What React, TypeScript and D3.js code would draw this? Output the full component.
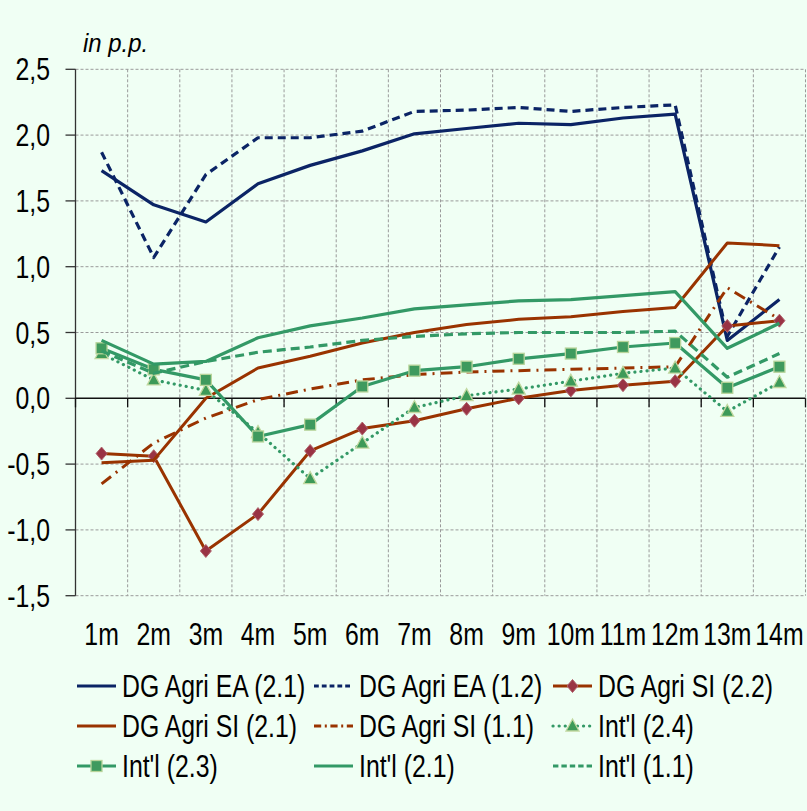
import React from "react";
import * as d3 from "d3";

const months = ["1m","2m","3m","4m","5m","6m","7m","8m","9m","10m","11m","12m","13m","14m"];
const yTicks = [2.5, 2.0, 1.5, 1.0, 0.5, 0.0, -0.5, -1.0, -1.5];

const eaAgri21 = [1.73,1.47,1.34,1.63,1.77,1.88,2.01,2.05,2.09,2.08,2.13,2.16,0.44,0.75];
const eaAgri12 = [1.87,1.07,1.70,1.98,1.98,2.03,2.18,2.19,2.21,2.18,2.21,2.23,0.47,1.15];
const siAgri22 = [-0.42,-0.44,-1.16,-0.88,-0.40,-0.23,-0.17,-0.08,0.0,0.06,0.10,0.13,0.55,0.59];
const siAgri21 = [-0.49,-0.47,0.0,0.23,0.32,0.42,0.50,0.56,0.60,0.62,0.66,0.69,1.18,1.16];
const siAgri11 = [-0.65,-0.34,-0.15,-0.01,0.07,0.14,0.18,0.20,0.21,0.22,0.23,0.24,0.84,0.60];
const intl24 = [0.34,0.14,0.06,-0.26,-0.61,-0.34,-0.07,0.02,0.07,0.13,0.19,0.23,-0.10,0.12];
const intl23 = [0.38,0.22,0.14,-0.29,-0.20,0.09,0.21,0.24,0.30,0.34,0.39,0.42,0.08,0.24];
const intl21 = [0.44,0.26,0.28,0.46,0.55,0.61,0.68,0.71,0.74,0.75,0.78,0.81,0.38,0.57];
const intl11 = [0.36,0.19,0.28,0.35,0.39,0.44,0.47,0.49,0.50,0.50,0.50,0.51,0.16,0.34];

const NAVY = "#0b2465";
const BROWN = "#993300";
const GREEN = "#339966";
const DIAMOND = "#993344";

type Series = {
  name: string;
  values: number[];
  color: string;
  width: number;
  dash?: string;
  cap?: string;
  marker?: "diamond" | "square" | "triangle";
};

const series: Series[] = [
  { name: "DG Agri EA (2.1)", values: eaAgri21, color: NAVY, width: 3.2 },
  { name: "DG Agri EA (1.2)", values: eaAgri12, color: NAVY, width: 3.2, dash: "8,5" },
  { name: "DG Agri SI (2.2)", values: siAgri22, color: BROWN, width: 3, marker: "diamond" },
  { name: "DG Agri SI (2.1)", values: siAgri21, color: BROWN, width: 3 },
  { name: "DG Agri SI (1.1)", values: siAgri11, color: BROWN, width: 3, dash: "12,6,2,6" },
  { name: "Int'l (2.4)", values: intl24, color: GREEN, width: 3.2, dash: "0.1,6", cap: "round", marker: "triangle" },
  { name: "Int'l (2.3)", values: intl23, color: GREEN, width: 3.2, marker: "square" },
  { name: "Int'l (2.1)", values: intl21, color: GREEN, width: 3.2 },
  { name: "Int'l (1.1)", values: intl11, color: GREEN, width: 3.2, dash: "9,5" },
];

const W = 807, H = 811;
const left = 75.5, right = 805.5, top = 69.3, bottom = 595.7;
const FONT = "'Liberation Sans', Arial, sans-serif";

function Marker({ kind, x, y }: { kind?: string; x: number; y: number }) {
  if (kind === "diamond") {
    return <path d={`M${x},${y - 6.5}L${x + 5.5},${y}L${x},${y + 6.5}L${x - 5.5},${y}Z`} fill={DIAMOND} stroke="#b0606a" strokeWidth={1} />;
  }
  if (kind === "square") {
    return <rect x={x - 5.5} y={y - 5.5} width={11} height={11} fill="#3f9a5e" stroke="#b8d49a" strokeWidth={1.3} />;
  }
  if (kind === "triangle") {
    return <path d={`M${x},${y - 7}L${x + 6.5},${y + 5}L${x - 6.5},${y + 5}Z`} fill="#3d9a58" stroke="#c2d8a0" strokeWidth={1.3} />;
  }
  return null;
}

export default function App() {
  const x = d3.scaleBand<string>().domain(months).range([left, right]).padding(0);
  const y = d3.scaleLinear().domain([-1.5, 2.5]).range([bottom, top]);
  const cx = (m: string) => (x(m) as number) + x.bandwidth() / 2;
  const line = d3.line<number>().x((_, i) => cx(months[i])).y((v) => y(v));

  const boundaries = d3.range(months.length + 1).map((i) => left + i * x.bandwidth());

  const legendCols = [77, 314, 553];
  const legendRows = [686, 726, 766];

  return (
    <svg width={W} height={H} style={{ position: "absolute", left: 0, top: 0 }} fontFamily={FONT}>
      <rect x={0} y={0} width={W} height={H} fill="#f0fff4" />
      {/* grid */}
      {yTicks.filter((t) => t !== 0).map((t) => (
        <line key={"gy" + t} x1={left} x2={right} y1={y(t)} y2={y(t)} stroke="#9a9a9a" strokeWidth={1} strokeDasharray="3,2" />
      ))}
      {boundaries.slice(1).map((b, i) => (
        <line key={"gx" + i} x1={b} x2={b} y1={top} y2={bottom} stroke="#9a9a9a" strokeWidth={1} strokeDasharray="3,2" />
      ))}
      {/* axes */}
      <line x1={left} x2={left} y1={top} y2={bottom} stroke="#333" strokeWidth={1.3} />
      {yTicks.map((t) => (
        <line key={"ty" + t} x1={left - 10} x2={left} y1={y(t)} y2={y(t)} stroke="#333" strokeWidth={1.3} />
      ))}
      <line x1={left} x2={right} y1={y(0)} y2={y(0)} stroke="#111" strokeWidth={1.5} />
      {boundaries.map((b, i) => (
        <line key={"tx" + i} x1={b} x2={b} y1={y(0)} y2={y(0) + 9} stroke="#111" strokeWidth={1.3} />
      ))}
      {/* y labels */}
      {yTicks.map((t) => (
        <text key={"ly" + t} transform={`translate(${50},${y(t) + 11}) scale(0.8,1)`} textAnchor="end" fontSize={31} fill="#000">
          {d3.format(".1f")(t).replace(".", ",").replace("−", "-")}
        </text>
      ))}
      <text transform={`translate(83,52) scale(0.92,1)`} fontSize={26} fontStyle="italic" fill="#000">in p.p.</text>
      {/* x labels */}
      {months.map((m) => (
        <text key={"lx" + m} transform={`translate(${cx(m)},${645}) scale(0.8,1)`} textAnchor="middle" fontSize={31} fill="#000">
          {m}
        </text>
      ))}
      {/* series */}
      {series.map((s) => (
        <g key={s.name}>
          <path d={line(s.values) as string} fill="none" stroke={s.color} strokeWidth={s.width}
            strokeDasharray={s.dash} strokeLinecap={(s.cap as any) || "butt"} strokeLinejoin="round" />
          {s.marker && s.values.map((v, i) => <Marker key={i} kind={s.marker} x={cx(months[i])} y={y(v)} />)}
        </g>
      ))}
      {/* legend */}
      {series.map((s, i) => {
        const lx = legendCols[i % 3];
        const ly = legendRows[Math.floor(i / 3)];
        return (
          <g key={"lg" + s.name}>
            <line x1={lx} x2={lx + 39} y1={ly} y2={ly} stroke={s.color} strokeWidth={s.width}
              strokeDasharray={s.dash ? (s.cap ? "0.1,6" : s.dash.split(",").map((d) => String(Math.max(2, +d * 0.6))).join(",")) : undefined}
              strokeLinecap={(s.cap as any) || "butt"} />
            {s.marker && <Marker kind={s.marker} x={lx + 19.5} y={ly} />}
            <text transform={`translate(${lx + 45},${ly + 11}) scale(0.8,1)`} fontSize={31} fill="#000">{s.name}</text>
          </g>
        );
      })}
    </svg>
  );
}
